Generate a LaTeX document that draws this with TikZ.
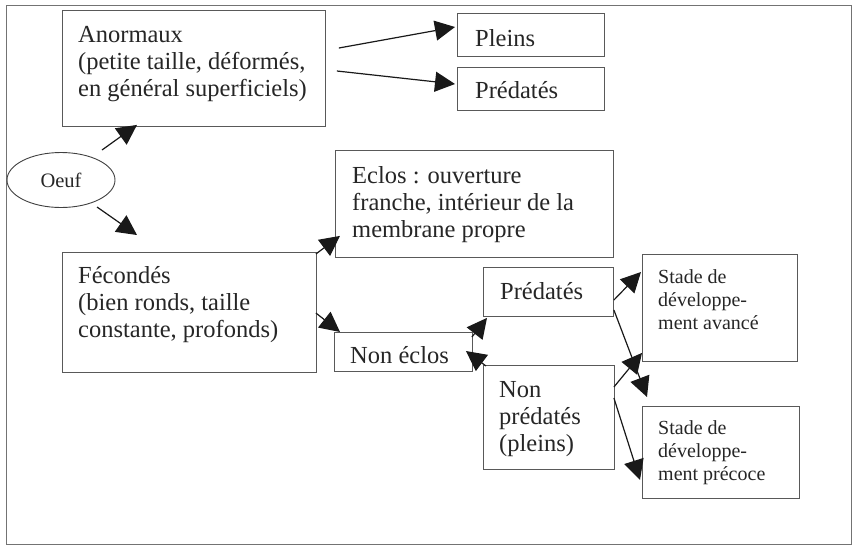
\documentclass[tikz,border=0pt]{standalone}
\usepackage{fontspec}
\setmainfont{Liberation Serif}
\usetikzlibrary{arrows.meta,calc,shapes.geometric}
\begin{document}
\begin{tikzpicture}[x=1pt,y=-1pt,
  boxnode/.style={draw=black!65, line width=0.9pt, rectangle, inner sep=0pt, anchor=north west},
  bigtxt/.style={font=\fontsize{24.5}{27}\selectfont, align=left, inner sep=0pt, anchor=north west, text=black!85},
  smalltxt/.style={font=\fontsize{20}{23}\selectfont, align=left, inner sep=0pt, anchor=north west, text=black!85},
  arr/.style={line width=1.2pt, draw=black!90, -{Triangle[length=20pt,width=20pt]}}]
\useasboundingbox (0,0) rectangle (854,547);
\draw[black!55, line width=1pt] (6,5) rectangle (851,544);

% boxes
\node[boxnode, minimum width=263pt, minimum height=116pt] (anorm) at (62,10) {};
\node[boxnode, minimum width=147pt, minimum height=43pt] (pleins) at (457,13) {};
\node[boxnode, minimum width=147pt, minimum height=43pt] (predT) at (457,67) {};
\node[draw=black!75, line width=0.9pt, ellipse, minimum width=108pt, minimum height=55pt, inner sep=0pt,
      font=\fontsize{20.5}{23}\selectfont, text=black!85] (oeuf) at (61,180) {Oeuf};
\node[boxnode, minimum width=278pt, minimum height=107pt] (eclos) at (335,150) {};
\node[boxnode, minimum width=254pt, minimum height=120pt] (fec) at (62,252) {};
\node[boxnode, minimum width=138pt, minimum height=39pt] (nonec) at (334,332) {};
\node[boxnode, minimum width=130pt, minimum height=49pt] (predM) at (483,267) {};
\node[boxnode, minimum width=131pt, minimum height=104pt] (nonpred) at (483,365) {};
\node[boxnode, minimum width=155pt, minimum height=107pt] (avance) at (642,254) {};
\node[boxnode, minimum width=157pt, minimum height=92pt] (precoce) at (642,406) {};

% texts
\node[bigtxt] (anormT) at ($(anorm.north west)+(16,16)$) {Anormaux\\(petite taille, déformés,\\en général superficiels)};
\node[bigtxt] (pleinsT) at ($(pleins.north west)+(18,16)$) {Pleins};
\node[bigtxt] (predTT) at ($(predT.north west)+(18,14)$) {Prédatés};
\node[bigtxt] (eclosT) at ($(eclos.north west)+(17,16)$) {Eclos : ouverture\\franche, intérieur de la\\membrane propre};
\node[bigtxt] (fecT) at ($(fec.north west)+(16,14)$) {Fécondés\\(bien ronds, taille\\constante, profonds)};
\node[bigtxt] (nonecT) at ($(nonec.north west)+(16,14)$) {Non éclos};
\node[bigtxt] (predMT) at ($(predM.north west)+(17,15)$) {Prédatés};
\node[bigtxt] (nonpredT) at ($(nonpred.north west)+(16,16)$) {Non\\prédatés\\(pleins)};
\node[smalltxt] (avanceT) at ($(avance.north west)+(16,15)$) {Stade de\\développe-\\ment avancé};
\node[smalltxt] (precoceT) at ($(precoce.north west)+(16,14)$) {Stade de\\développe-\\ment précoce};

% connectors
\draw[arr] ($(oeuf.center)+(41,-30)$) -- ($(anorm.south west)+(75,-2)$);
\draw[arr] ($(oeuf.center)+(36,27)$) -- ($(fec.north west)+(75,-17)$);
\draw[arr] ($(anorm.north east)+(13,38)$) -- ($(pleins.north west)+(-2,14)$);
\draw[arr] ($(anorm.north east)+(11,61)$) -- ($(predT.north west)+(-2,17)$);
\draw[arr] ($(fec.north east)+(-1,2)$) -- ($(eclos.south west)+(5,-22)$);
\draw[arr] ($(fec.north east)+(-1,61)$) -- ($(nonec.north west)+(6,0)$);
\draw[arr] ($(nonec.north east)+(-1,5)$) -- ($(predM.south west)+(4,1)$);
\draw[arr] ($(nonpred.north west)+(3,1)$) -- ($(nonec.north east)+(-7,19)$);
\draw[arr] ($(predM.north east)+(0,33)$) -- ($(avance.north west)+(-1,18)$);
\draw[arr] ($(predM.north east)+(0,43)$) -- ($(precoce.north west)+(5,-9)$);
\draw[arr] ($(nonpred.north east)+(-1,22)$) -- ($(avance.south west)+(0,-9)$);
\draw[arr] ($(nonpred.north east)+(-1,33)$) -- ($(precoce.north west)+(-2,74)$);
\end{tikzpicture}
\end{document}
